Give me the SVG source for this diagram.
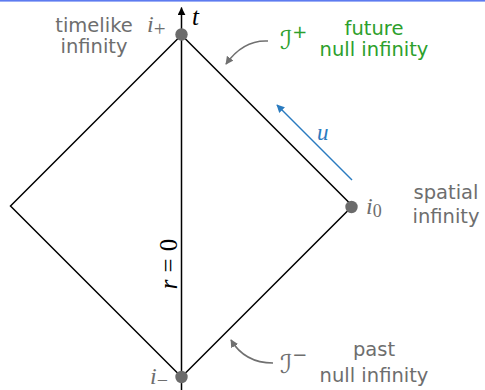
<svg xmlns="http://www.w3.org/2000/svg" width="485" height="390" viewBox="0 0 485 390">
<style>
.edge{stroke:#000;stroke-width:1.5;fill:none;stroke-linecap:round}
.dot{fill:#6b6b6b}
.lbl{font-family:"DejaVu Sans",sans-serif;font-size:19.5px;fill:#6e6e6e;text-anchor:middle}
.green{fill:#2ca02c}
.math{font-family:"Liberation Serif","DejaVu Serif",serif;font-style:italic;fill:#6e6e6e}
.cal{font-family:"DejaVu Sans",serif;fill:#6e6e6e}
.ptr{stroke:#707070;stroke-width:1.5;fill:none}
</style>
<defs>
<marker id="ah" viewBox="0 0 10 10" refX="9" refY="5" markerWidth="8" markerHeight="8" markerUnits="userSpaceOnUse" orient="auto">
<path d="M0,0 L10,5 L0,10 z" fill="#000"/>
</marker>
<marker id="ahb" viewBox="0 0 10 10" refX="9" refY="5" markerWidth="8" markerHeight="8" markerUnits="userSpaceOnUse" orient="auto">
<path d="M0,0 L10,5 L0,10 z" fill="#2a7bbf"/>
</marker>
<marker id="ahg" viewBox="0 0 10 10" refX="9" refY="5" markerWidth="8" markerHeight="8" markerUnits="userSpaceOnUse" orient="auto">
<path d="M0,0 L10,5 L0,10 z" fill="#707070"/>
</marker>
</defs>
<rect x="0" y="0" width="485" height="1.6" fill="#5d7bf0"/>
<g id="connectors">
<path class="edge" d="M181.5,35 L352.5,206 L181.5,377 L10.5,206 Z"/>
<line class="edge" x1="181.5" y1="390" x2="181.5" y2="8" marker-end="url(#ah)"/>
<line x1="352" y1="180" x2="277" y2="105" stroke="#2a7bbf" stroke-width="1.5" marker-end="url(#ahb)"/>
<path class="ptr" d="M268,41 C250,40 236,50 226,64" marker-end="url(#ahg)"/>
<path class="ptr" d="M273,363 C255,363 240,355 231,340" marker-end="url(#ahg)"/>
</g>
<g id="t-axis">
<text x="192" y="25" font-family="Liberation Serif,serif" font-style="italic" font-size="25" fill="#000">t</text>
<text transform="translate(177,264) rotate(-90)" font-family="Liberation Serif,serif" font-size="25" fill="#000" text-anchor="middle"><tspan font-style="italic">r</tspan><tspan dx="7">=</tspan><tspan dx="7">0</tspan></text>
</g>
<g id="i-plus">
<circle class="dot" cx="181.5" cy="34.5" r="6.2"/>
<text class="math" x="147" y="32" font-size="24">i<tspan font-style="normal" font-size="21" dy="4">+</tspan></text>
<text class="lbl" x="94" y="32">timelike</text>
<text class="lbl" x="94" y="53">infinity</text>
</g>
<g id="i-zero">
<circle class="dot" cx="351.5" cy="207" r="6.2"/>
<text class="math" x="366" y="214" font-size="24">i<tspan font-style="normal" font-size="18" dy="3">0</tspan></text>
<text class="lbl" x="446" y="199">spatial</text>
<text class="lbl" x="446" y="223">infinity</text>
</g>
<g id="i-minus">
<circle class="dot" cx="181.5" cy="377" r="6.2"/>
<text class="math" x="150" y="384" font-size="24">i<tspan font-style="normal" font-size="20" dy="3">−</tspan></text>
</g>
<g id="scri-plus">
<text class="cal" x="280" y="49" font-size="26" style="fill:#2ca02c">ℐ<tspan font-size="18" dy="-11">+</tspan></text>
<text class="lbl green" x="374" y="35">future</text>
<text class="lbl green" x="374" y="56">null infinity</text>
</g>
<g id="u-label">
<text x="317" y="140" font-family="Liberation Serif,serif" font-style="italic" font-size="23" fill="#2a7bbf">u</text>
</g>
<g id="scri-minus">
<text class="cal" x="280" y="373" font-size="26">ℐ<tspan font-size="18" dy="-12">−</tspan></text>
<text class="lbl" x="374" y="356">past</text>
<text class="lbl" x="374" y="382">null infinity</text>
</g>
</svg>
